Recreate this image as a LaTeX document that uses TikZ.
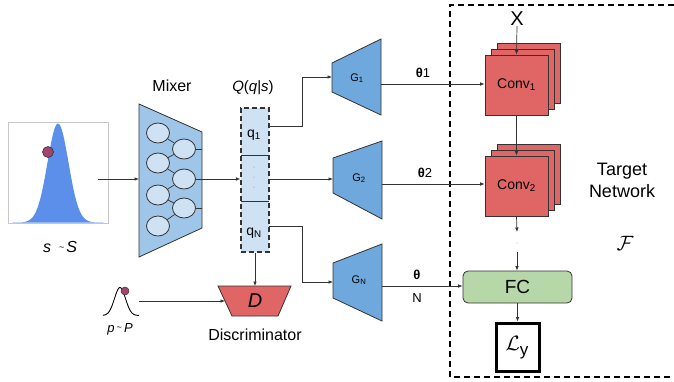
\documentclass[tikz,border=0pt]{standalone}
\usepackage{fontspec}
\setmainfont{Liberation Sans}
\usetikzlibrary{arrows.meta,calc,shapes.geometric}
\definecolor{mixblue}{HTML}{9FC5E8}
\definecolor{lightblue}{HTML}{CFE2F3}
\definecolor{gblue}{HTML}{6FA8DC}
\definecolor{convred}{HTML}{E06666}
\definecolor{fcgreen}{HTML}{B6D7A8}
\definecolor{gauss}{HTML}{5B8FEA}
\definecolor{dotpurple}{HTML}{A3446E}
\definecolor{edge}{HTML}{333333}
\begin{document}
\begin{tikzpicture}[x=1pt,y=-1pt,
  conn/.style={draw=edge, line width=0.7pt, -{Latex[length=4.5pt,width=3.6pt]}},
  plain/.style={draw=edge, line width=0.7pt},
  shapeedge/.style={draw=edge, line width=0.8pt},
  lbl/.style={inner sep=0pt, font=\fontsize{16}{18}\selectfont},
  neuron/.style={ellipse, draw=edge, line width=0.8pt, fill=lightblue, minimum width=23pt, minimum height=20pt, inner sep=0pt},
  convbox/.style={rectangle, draw=edge, line width=0.8pt, fill=convred, minimum width=63pt, minimum height=60pt, inner sep=0pt},
  glabel/.style={inner sep=0pt, font=\fontsize{11}{12}\selectfont},
  thetalbl/.style={inner sep=0pt, font=\fontsize{13}{14}\selectfont}
]
\useasboundingbox (0,0) rectangle (674,381);

% ---- sample distribution S
\draw[black!22, line width=0.6pt] (8,122) rectangle (108,223);
\fill[gauss] plot[domain=12:104, samples=120] (\x,{222.5-99*exp(-((\x-58)^2)/(2*10.5^2))}) -- cycle;
\node[circle, fill=dotpurple, draw=edge, line width=0.6pt, minimum size=11pt, inner sep=0pt] (sdot) at (48,152) {};
\node[lbl] (slabel) at (60,247) {\textit{s}\hspace{8pt}\raisebox{2pt}{\small\textasciitilde}\hspace{2pt}\textit{S}};
\coordinate (sout) at (98,179);

% ---- Mixer
\draw[shapeedge, fill=mixblue] (139,104) -- (202,132) -- (202,228) -- (139,257) -- cycle;
\coordinate (mixL) at (139,179);
\node[lbl] (mixlabel) at (172,86) {Mixer};
\node[neuron] (L1) at (158,133) {};
\node[neuron] (L2) at (158,163) {};
\node[neuron] (L3) at (158,195) {};
\node[neuron] (L4) at (158,226) {};
\node[neuron] (R1) at (184,149) {};
\node[neuron] (R2) at (184,179) {};
\node[neuron] (R3) at (184,208) {};
\foreach \a/\b in {L1/R1,L2/R1,L2/R2,L3/R2,L3/R3,L4/R3} \draw[plain] (\a) -- (\b);
\coordinate (e1) at (202,149);
\coordinate (e3) at (202,208);
\draw[plain] (R1.east) -- (e1);
\draw[plain] (R3.east) -- (e3);
\draw[conn] (sout) -- (mixL);

% ---- Q(q|s)
\node[draw=edge, line width=1.3pt, dash pattern=on 5pt off 3pt, fill=lightblue, minimum width=28pt, minimum height=144pt, inner sep=0pt] (Q) at (255,180) {};
\draw[plain] (241,155) -- (269,155);
\draw[plain] (241,201) -- (269,201);
\node[lbl, font=\fontsize{15}{17}\selectfont] (qlabel) at (253,88) {\textit{Q}(\textit{q}|\textit{s})};
\node[inner sep=0pt, font=\fontsize{14}{16}\selectfont] (q1) at (254,135) {q\textsubscript{1}};
\node[inner sep=0pt, font=\fontsize{14}{16}\selectfont] (qN) at (254,233) {q\textsubscript{N}};
\foreach \yy in {167,177,187} \fill[black!45] (254,\yy) circle (0.5pt);
\draw[conn] (R2.east) -- (Q.west |- R2.east);

% ---- generators
\draw[shapeedge, fill=gblue] (332,63) -- (381,39) -- (381,115) -- (332,92) -- cycle;
\draw[shapeedge, fill=gblue] (333,158) -- (382,141) -- (382,219) -- (333,193) -- cycle;
\draw[shapeedge, fill=gblue] (333,263) -- (382,244) -- (382,321) -- (333,298) -- cycle;
\node[glabel] (G1) at (357,78) {G\textsubscript{1}};
\node[glabel] (G2) at (359,178) {G\textsubscript{2}};
\node[glabel] (GN) at (359,280) {G\textsubscript{N}};
\coordinate (g1in) at (332,77);
\coordinate (g2in) at (333,179);
\coordinate (gNin) at (333,282);
\coordinate (g1out) at (381,84);
\coordinate (g2out) at (382,184);
\coordinate (gNout) at (382,286);
\coordinate (qtop) at (269,126);
\coordinate (qmid) at (269,179);
\coordinate (qbot) at (269,226);
\draw[conn] (qtop) -- (302,126) |- (g1in);
\draw[conn] (qmid) -- (g2in);
\draw[conn] (qbot) -- (302,226) |- (gNin);

% ---- discriminator
\draw[shapeedge, fill=convred] (218,286) -- (291,286) -- (278,316) -- (232,316) -- cycle;
\node[inner sep=0pt, font=\fontsize{20}{22}\selectfont] (D) at (255,301) {\textit{D}};
\coordinate (Dtop) at (255,286);
\coordinate (Dleft) at (225,301);
\node[lbl] (disclabel) at (255,335) {Discriminator};
\draw[conn] (Q.south) -- (Dtop);
\draw[black, line width=0.9pt] plot[domain=103:139, samples=60] (\x,{315.5-28*exp(-((\x-120)^2)/(2*5.5^2))});
\node[circle, fill=dotpurple, draw=edge, line width=0.5pt, minimum size=8pt, inner sep=0pt] (pdot) at (125,291) {};
\node[inner sep=0pt, font=\fontsize{13}{15}\selectfont] (plabel) at (120,329) {\textit{p}\,\raisebox{1.5pt}{\small\textasciitilde}\,\textit{P}};
\coordinate (pout) at (139,301);
\draw[conn] (pout) -- (Dleft);

% ---- target network frame
\draw[black, line width=1.3pt, dash pattern=on 6pt off 4pt] (674,5) -- (450,5) -- (450,377) -- (674,377);
\node[lbl, font=\fontsize{18}{22}\selectfont, align=center] (target) at (622,180) {Target\\Network};
\node[inner sep=0pt, font=\fontsize{22}{24}\selectfont] (F) at (625,243) {$\mathcal{F}$};

% ---- conv stacks
\node[convbox] (C1c) at (528.5,73) {};
\node[convbox] (C1b) at (522.5,79) {};
\node[convbox] (C1) at (516.5,85) {};
\node[inner sep=0pt, font=\fontsize{14}{16}\selectfont] at (C1) {Conv\textsubscript{1}};
\node[convbox] (C2c) at (528.5,174) {};
\node[convbox] (C2b) at (522.5,180) {};
\node[convbox] (C2) at (516.5,186) {};
\node[inner sep=0pt, font=\fontsize{14}{16}\selectfont] at (C2) {Conv\textsubscript{2}};
\node[inner sep=0pt, font=\fontsize{20}{22}\selectfont] (X) at (517,19) {X};
\draw[conn] (X.south) -- (C1.north);
\draw[conn] (C1.south) -- (C2.north);

\node[draw=edge, line width=0.8pt, fill=fcgreen, rounded corners=5pt, minimum width=109pt, minimum height=32pt, inner sep=0pt, font=\fontsize{19}{21}\selectfont] (FC) at (517.5,287) {FC};
\coordinate (c2end) at (517,232);
\coordinate (fcstart) at (517,252);
\fill[black!45] (517,243) circle (0.5pt);
\draw[conn] (C2.south) -- (c2end);
\draw[conn] (fcstart) -- (FC.north -| fcstart);
\node[draw=black, line width=3pt, minimum width=43pt, minimum height=48pt, inner sep=0pt] (Lbox) at (517.5,347) {};
\node[inner sep=0pt] (Ly) at (517,348) {{\fontsize{20}{22}\selectfont$\mathcal{L}$}\raisebox{-5pt}{\fontsize{17}{18}\selectfont y}};
\draw[conn] (FC.south -| Lbox.north) -- (Lbox.north);

% ---- generator outputs
\draw[conn] (g1out) -- (C1.west |- g1out);
\draw[conn] (g2out) -- (C2.west |- g2out);
\draw[conn] (gNout) -- (FC.west |- gNout);
\node[thetalbl] (t1) at (423,73) {{\bfseries θ}1};
\node[thetalbl] (t2) at (425,173) {{\bfseries θ}2};
\node[thetalbl] (tN) at (417,275) {{\bfseries θ}};
\node[thetalbl] (tNN) at (417,298) {N};
\end{tikzpicture}
\end{document}
